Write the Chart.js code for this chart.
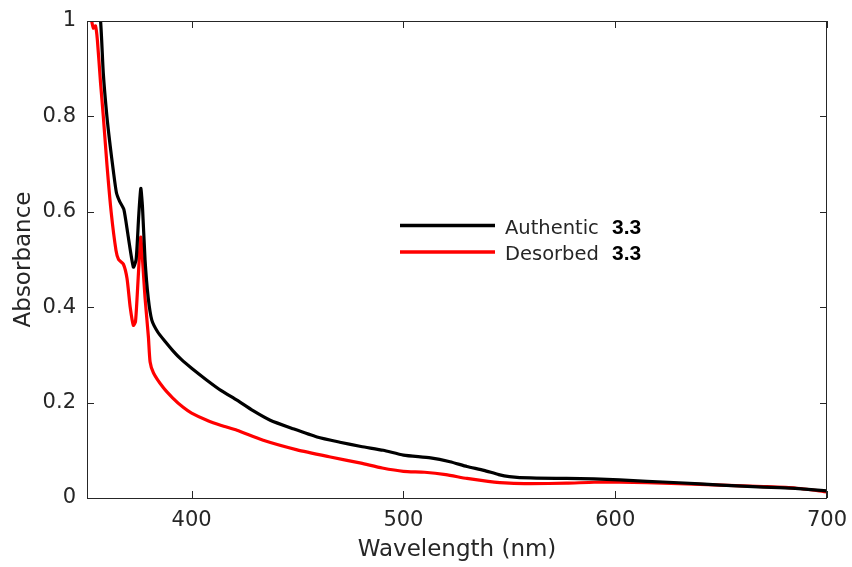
<!DOCTYPE html>
<html>
<head>
<meta charset="utf-8">
<script src="https://cdn.jsdelivr.net/npm/chart.js@4.4.1/dist/chart.umd.min.js"></script>
<style>
  html, body { margin: 0; padding: 0; background: #fff; }
  #wrap { width: 852px; height: 567px; }
</style>
</head>
<body>
<div id="wrap"><canvas id="spec" width="852" height="567"></canvas></div>
<script>
// UV-vis spectra, authentic vs desorbed sample
const wlAuthentic = [355, 357, 358.3, 360, 361.5, 363, 364.5, 366, 368, 370, 372.5, 373.8, 375, 376, 376.8, 378, 379.5, 381.2,
  384, 387.5, 391.3, 395, 400, 407.2, 414, 421.4, 429, 437.1, 448, 459.2, 470, 480, 490.5, 500, 512.8, 522, 530, 538, 545,
  550, 560, 577, 590, 602, 615, 630, 650, 670, 685, 700];
const absAuthentic = [1.06, 1.0, 0.89, 0.80, 0.74, 0.687, 0.64, 0.622, 0.605, 0.55, 0.484, 0.50, 0.59, 0.649, 0.61, 0.50, 0.42, 0.373,
  0.348, 0.328, 0.308, 0.291, 0.272, 0.247, 0.225, 0.205, 0.183, 0.163, 0.145, 0.128, 0.117, 0.108, 0.100, 0.090, 0.084, 0.076, 0.066, 0.058, 0.049,
  0.045, 0.042, 0.041, 0.040, 0.038, 0.035, 0.032, 0.027, 0.023, 0.020, 0.015];

const wlDesorbed = [352, 352.8, 353.6, 354.6, 355.5, 357, 358.3, 360, 362, 364.3, 365.5, 367.8, 369.5, 371, 372.5, 373.5, 374.5, 375.5,
  376, 376.8, 378, 379.6, 380.4, 382, 386.5, 391, 396, 400, 407.2, 414, 421.4, 433.8, 449.8, 465.5, 480, 490, 500, 510, 520, 530,
  540, 550, 560, 577, 590, 602, 615, 630, 650, 670, 685, 700];
const absDesorbed = [1.02, 1.0, 0.985, 0.99, 0.96, 0.87, 0.80, 0.70, 0.60, 0.519, 0.50, 0.49, 0.46, 0.40, 0.362, 0.37, 0.44, 0.52,
  0.547, 0.50, 0.42, 0.337, 0.285, 0.262, 0.232, 0.210, 0.190, 0.178, 0.163, 0.152, 0.142, 0.121, 0.101, 0.086, 0.073, 0.063, 0.056, 0.054, 0.049, 0.041,
  0.035, 0.031, 0.030, 0.031, 0.033, 0.033, 0.032, 0.030, 0.027, 0.024, 0.021, 0.013];

const xTicks = [400, 500, 600, 700];
const yTicks = [0, 0.2, 0.4, 0.6, 0.8, 1];
const seriesNames = ['Authentic', 'Desorbed'];
const seriesTags = ['3.3', '3.3'];
const seriesColors = ['#000000', '#ff0000'];

const AXIS_COLOR = '#262626';
const FONT = 'DejaVu Sans';

function pts(xs, ys) {
  return xs.map((x, i) => ({ x: x, y: ys[i] }));
}

// box around the axes with inward ticks on all four sides
const boxPlugin = {
  id: 'box',
  afterDatasetsDraw(chart) {
    const { ctx, chartArea: a, scales } = chart;
    const len = 7;
    ctx.save();
    ctx.strokeStyle = AXIS_COLOR;
    ctx.lineWidth = 1;
    ctx.beginPath();
    ctx.rect(a.left + 0.5, a.top + 0.5, a.right - a.left - 1, a.bottom - a.top);
    xTicks.forEach(v => {
      const px = Math.round(scales.x.getPixelForValue(v)) + 0.5;
      ctx.moveTo(px, a.bottom); ctx.lineTo(px, a.bottom - len);
      ctx.moveTo(px, a.top); ctx.lineTo(px, a.top + len);
    });
    yTicks.forEach(v => {
      const py = Math.round(scales.y.getPixelForValue(v)) + 0.5;
      ctx.moveTo(a.left, py); ctx.lineTo(a.left + len, py);
      ctx.moveTo(a.right, py); ctx.lineTo(a.right - len, py);
    });
    ctx.stroke();
    ctx.restore();
  }
};

// legend drawn inside the plot, name plus bold tag
const legendPlugin = {
  id: 'innerLegend',
  afterDraw(chart) {
    const ctx = chart.ctx;
    ctx.save();
    seriesNames.forEach((name, i) => {
      const base = 233.5 + i * 26.5;
      ctx.strokeStyle = seriesColors[i];
      ctx.lineWidth = 3.5;
      ctx.beginPath();
      ctx.moveTo(400, base - 8);
      ctx.lineTo(495, base - 8);
      ctx.stroke();
      ctx.fillStyle = AXIS_COLOR;
      ctx.font = '19.5px "' + FONT + '"';
      ctx.textBaseline = 'alphabetic';
      ctx.fillText(name, 505, base);
      ctx.fillStyle = '#000';
      ctx.font = 'bold 21px "Liberation Sans"';
      ctx.fillText(seriesTags[i], 612, base);
    });
    ctx.restore();
  }
};

new Chart(document.getElementById('spec'), {
  type: 'line',
  data: {
    datasets: [
      { label: seriesNames[0], data: pts(wlAuthentic, absAuthentic), borderColor: seriesColors[0], borderWidth: 3.2, pointRadius: 0, tension: 0.2, fill: false },
      { label: seriesNames[1], data: pts(wlDesorbed, absDesorbed), borderColor: seriesColors[1], borderWidth: 3.2, pointRadius: 0, tension: 0.2, fill: false },
    ],
  },
  options: {
    responsive: false,
    animation: false,
    layout: { padding: { left: 0, right: 25, top: 21, bottom: 0 } },
    plugins: { legend: { display: false }, tooltip: { enabled: false } },
    scales: {
      x: {
        type: 'linear', min: 350.6, max: 700,
        afterBuildTicks: s => { s.ticks = xTicks.map(v => ({ value: v })); },
        afterFit: s => { s.height = 69; s.paddingLeft = 0; s.paddingRight = 0; },
        grid: { display: false, drawTicks: false },
        border: { display: false },
        ticks: { color: AXIS_COLOR, font: { family: FONT, size: 21 }, padding: 10, maxRotation: 0 },
        title: { display: true, text: 'Wavelength (nm)', color: AXIS_COLOR, font: { family: FONT, size: 23 }, padding: { top: 0, bottom: 3 } },
      },
      y: {
        min: 0, max: 1,
        afterBuildTicks: s => { s.ticks = yTicks.map(v => ({ value: v })); },
        afterFit: s => { s.width = 87; s.paddingTop = 0; s.paddingBottom = 0; },
        grid: { display: false, drawTicks: false },
        border: { display: false },
        ticks: { color: AXIS_COLOR, font: { family: FONT, size: 21 }, padding: 11, callback: v => String(v) },
        title: { display: true, text: 'Absorbance', color: AXIS_COLOR, font: { family: FONT, size: 23 }, padding: { top: 10, bottom: 0 } },
      },
    },
  },
  plugins: [boxPlugin, legendPlugin],
});
</script>
</body>
</html>
